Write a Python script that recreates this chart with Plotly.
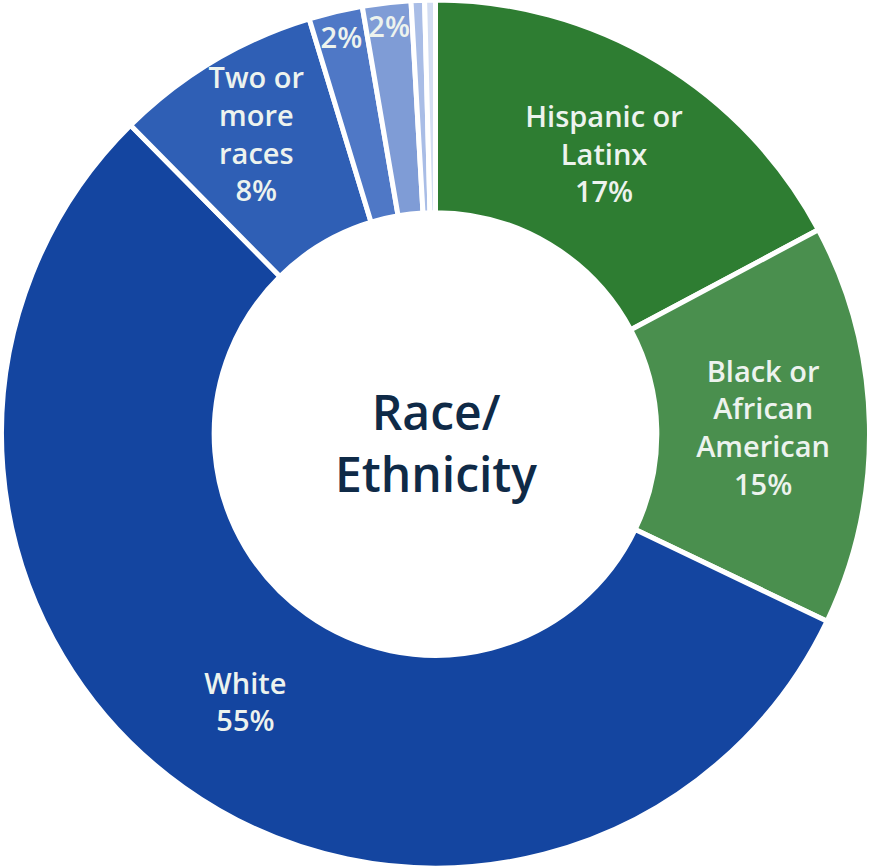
import plotly.graph_objects as go

categories = ["Hispanic or Latinx", "Black or African American", "White",
              "Two or more races", "Group A", "Group B", "Group C", "Group D"]
values = [17.2, 14.9, 55.5, 7.7, 2.0, 1.8, 0.5, 0.4]
slice_text = ["Hispanic or<br>Latinx<br>17%", "Black or<br>African<br>American<br>15%",
              "White<br>55%", "Two or<br>more<br>races<br>8%", "2%", "2%", "", ""]
colors = ["#2e7d32", "#4a8f4e", "#1445a0", "#2f5fb5", "#4f78c6", "#7f9cd6", "#a9bde6", "#d3ddf2"]
center_label = "Race/<br>Ethnicity"

fig = go.Figure(go.Pie(
    labels=categories,
    values=values,
    text=slice_text,
    textinfo="text",
    textposition="inside",
    insidetextorientation="horizontal",
    insidetextfont=dict(family="Open Sans", size=29, color="#edf3ee", weight=600),
    hole=0.51,
    sort=False,
    direction="clockwise",
    rotation=0,
    domain=dict(x=[0, 1], y=[0, 1]),
    marker=dict(colors=colors, line=dict(color="white", width=5)),
    showlegend=False,
    hoverinfo="label+percent",
))

fig.add_annotation(
    text=center_label, x=0.5, y=0.5, xref="paper", yref="paper",
    showarrow=False, yshift=-8,
    font=dict(family="Open Sans", size=48, color="#0f2a47", weight=600),
)

fig.update_layout(
    width=871, height=868,
    margin=dict(l=0, r=0, t=0, b=0),
    paper_bgcolor="white",
    plot_bgcolor="white",
    uniformtext=dict(minsize=29, mode="show"),
)

fig.write_html("out.html", config={"displayModeBar": False},
               post_script="document.body.style.margin='0';")
